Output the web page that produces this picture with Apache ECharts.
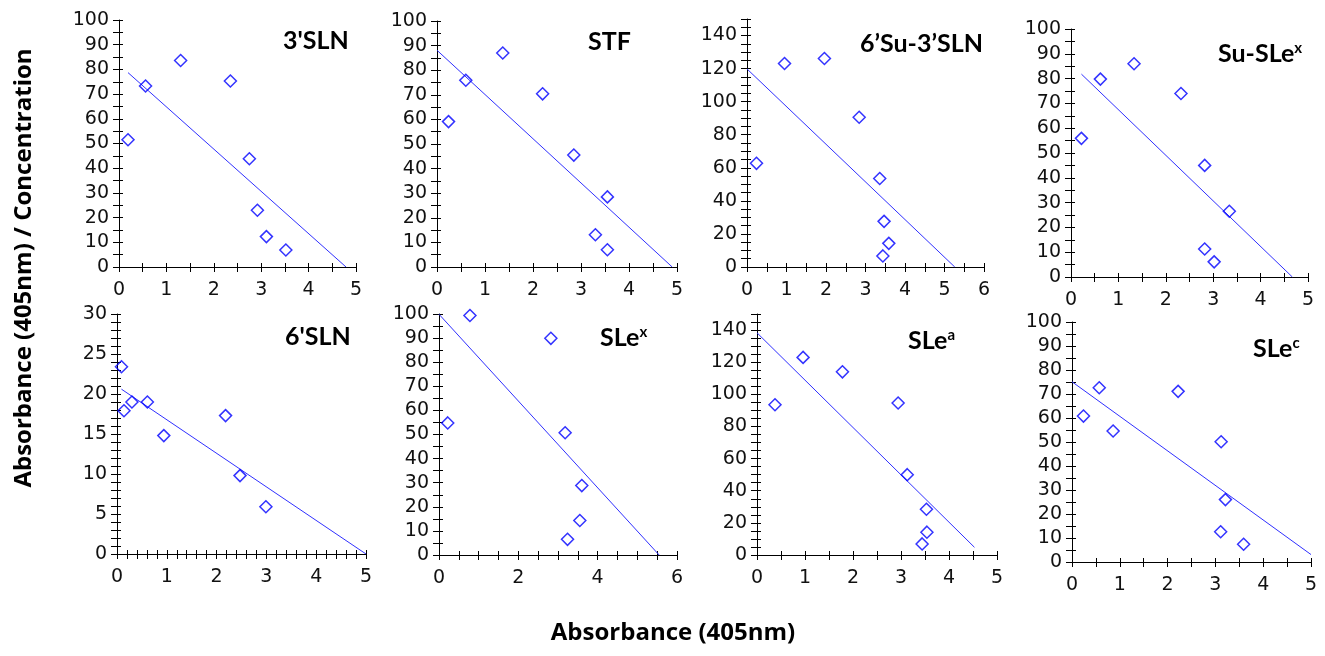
<!DOCTYPE html>
<html>
<head>
<meta charset="utf-8">
<script src="https://cdn.jsdelivr.net/npm/echarts@6/dist/echarts.min.js"></script>
<style>
html, body { margin: 0; padding: 0; background: #fff; }
#main { width: 1325px; height: 656px; }
</style>
</head>
<body>
<div id="main"></div>
<script>
// panel titles ({s|..} = superscript)
const names = ["3'SLN", "STF", "6’Su-3’SLN", "Su-SLe{s|x}", "6'SLN", "SLe{s|x}", "SLe{s|a}", "SLe{s|c}"];

// measured points [absorbance, absorbance/concentration]
const pts3SLN = [[0.19, 51.5], [0.56, 73.3], [1.30, 83.6], [2.35, 75.3], [2.75, 43.8], [2.92, 23.0], [3.11, 12.3], [3.52, 6.9]];
const ptsSTF = [[0.24, 59.1], [0.60, 75.9], [1.37, 87.0], [2.20, 70.4], [2.85, 45.5], [3.55, 28.5], [3.30, 13.1], [3.55, 7.0]];
const pts6Su3SLN = [[0.24, 62.7], [0.95, 123.1], [1.96, 126.1], [2.84, 90.6], [3.36, 53.5], [3.47, 27.6], [3.59, 14.3], [3.44, 6.7]];
const ptsSuSLex = [[0.22, 55.9], [0.62, 79.8], [1.33, 86.0], [2.32, 74.0], [2.82, 45.0], [3.34, 26.5], [2.82, 11.3], [3.02, 6.1]];
const pts6SLN = [[0.09, 23.4], [0.14, 17.9], [0.30, 19.0], [0.61, 19.0], [0.94, 14.8], [2.18, 17.3], [2.47, 9.8], [2.99, 5.9]];
const ptsSLex = [[0.22, 54.8], [0.78, 99.4], [2.82, 89.9], [3.18, 50.7], [3.60, 28.8], [3.55, 14.3], [3.24, 6.5]];
const ptsSLea = [[0.375, 93.5], [0.96, 123.0], [1.78, 114.0], [2.94, 94.6], [3.13, 50.0], [3.53, 28.5], [3.54, 14.2], [3.44, 6.9]];
const ptsSLec = [[0.24, 60.8], [0.57, 72.6], [0.86, 54.6], [2.22, 71.1], [3.12, 50.1], [3.21, 26.0], [3.11, 12.6], [3.59, 7.4]];

// trend line end points
const fit3SLN = [[0.19, 78.7], [4.79, 0]];
const fitSTF = [[0, 88.1], [4.90, 0]];
const fit6Su3SLN = [[0, 119.8], [5.26, 0]];
const fitSuSLex = [[0.22, 81.8], [4.67, 0]];
const fit6SLN = [[0.09, 20.6], [5.0, 0]];
const fitSLex = [[0, 99.9], [5.55, 0]];
const fitSLea = [[0, 138.3], [4.53, 4.8]];
const fitSLec = [[0, 75.1], [5, 3.1]];

const points = [pts3SLN, ptsSTF, pts6Su3SLN, ptsSuSLex, pts6SLN, ptsSLex, ptsSLea, ptsSLec];
const fits = [fit3SLN, fitSTF, fit6Su3SLN, fitSuSLex, fit6SLN, fitSLex, fitSLea, fitSLec];

// axis ranges and tick steps
const xMax = [5, 5, 6, 5, 5, 6, 5, 5];
const xLabelStep = [1, 1, 1, 1, 1, 2, 1, 1];
const xTickStep = [0.5, 0.5, 0.5, 0.5, 0.2, 0.5, 0.5, 0.5];
const yMax = [100, 100, 150, 100, 30, 100, 150, 100];
const yLabelStep = [10, 10, 20, 10, 5, 10, 20, 10];
const yTickStep = [5, 5, 5, 5, 1, 5, 5, 5];

// layout: plot boxes [left, top, right, bottom] and title spots [x, top]
const boxes = [
  [119, 20, 356, 267], [437, 21, 677, 267], [747, 19, 984, 267], [1071, 29, 1308, 277],
  [117, 314, 366, 554], [439, 314, 677, 555], [757, 314, 997, 555], [1072, 322, 1311, 562]
];
const titleSpots = [[283, 28], [588, 29], [860, 31], [1218, 41], [285, 324], [600, 325], [908, 328], [1253, 336]];

const tickFont = { fontFamily: "DejaVu Sans", fontSize: 19, color: "#111" };

function labelEvery(step) {
  return function (v) {
    const k = v / step;
    return Math.abs(k - Math.round(k)) < 1e-6 ? String(Math.round(v * 1000) / 1000) : "";
  };
}

const chart = echarts.init(document.getElementById("main"));

const grid = [], xAxis = [], yAxis = [], series = [], title = [];
boxes.forEach(function (b, i) {
  grid.push({ left: b[0], top: b[1], width: b[2] - b[0], height: b[3] - b[1] });

  // outer ticks + labels
  xAxis.push({
    gridIndex: i, type: "value", position: "bottom", min: 0, max: xMax[i], interval: xTickStep[i],
    axisLine: { show: true, onZero: false, lineStyle: { color: "#000", width: 1 } },
    axisTick: { show: true, length: 5, lineStyle: { color: "#000" } },
    axisLabel: Object.assign({ formatter: labelEvery(xLabelStep[i]), margin: 14 }, tickFont),
    splitLine: { show: false }
  });
  // inner ticks so they cross the axis
  xAxis.push({
    gridIndex: i, type: "value", position: "bottom", min: 0, max: xMax[i], interval: xTickStep[i],
    axisLine: { show: false, onZero: false },
    axisTick: { show: true, inside: true, length: 4, lineStyle: { color: "#000" } },
    axisLabel: { show: false }, splitLine: { show: false }
  });
  yAxis.push({
    gridIndex: i, type: "value", position: "left", min: 0, max: yMax[i], interval: yTickStep[i],
    axisLine: { show: true, onZero: false, lineStyle: { color: "#000", width: 1 } },
    axisTick: { show: true, length: 6, lineStyle: { color: "#000" } },
    axisLabel: Object.assign({ formatter: labelEvery(yLabelStep[i]), margin: 10 }, tickFont),
    splitLine: { show: false }
  });
  yAxis.push({
    gridIndex: i, type: "value", position: "left", min: 0, max: yMax[i], interval: yTickStep[i],
    axisLine: { show: false, onZero: false },
    axisTick: { show: true, inside: true, length: 4, lineStyle: { color: "#000" } },
    axisLabel: { show: false }, splitLine: { show: false }
  });

  series.push({
    type: "line", xAxisIndex: 2 * i, yAxisIndex: 2 * i, data: fits[i],
    showSymbol: false, silent: true, z: 1,
    lineStyle: { color: "#3030ff", width: 1 }
  });
  series.push({
    type: "scatter", xAxisIndex: 2 * i, yAxisIndex: 2 * i, data: points[i],
    symbol: "diamond", symbolSize: 12, z: 2,
    itemStyle: { color: "rgba(0,0,0,0)", borderColor: "#0000ff", borderWidth: 1.5 }
  });

  title.push({
    text: names[i], left: titleSpots[i][0], top: titleSpots[i][1], padding: 0,
    textStyle: {
      fontFamily: "Lato", fontWeight: "bold", fontSize: 25, color: "#000",
      rich: { s: { fontFamily: "Lato", fontWeight: "bold", fontSize: 15, color: "#000", verticalAlign: "top" } }
    }
  });
});

chart.setOption({
  animation: false,
  backgroundColor: "#fff",
  title: title,
  grid: grid,
  xAxis: xAxis,
  yAxis: yAxis,
  series: series,
  graphic: [
    {
      type: "text", x: 24, y: 268, rotation: Math.PI / 2,
      style: { text: "Absorbance (405nm) / Concentration", font: "bold 24px 'Open Sans'", fill: "#000", textAlign: "center", textVerticalAlign: "middle" }
    },
    {
      type: "text", x: 673, y: 633,
      style: { text: "Absorbance (405nm)", font: "bold 24px 'Open Sans'", fill: "#000", textAlign: "center", textVerticalAlign: "middle" }
    }
  ]
});
</script>
</body>
</html>
